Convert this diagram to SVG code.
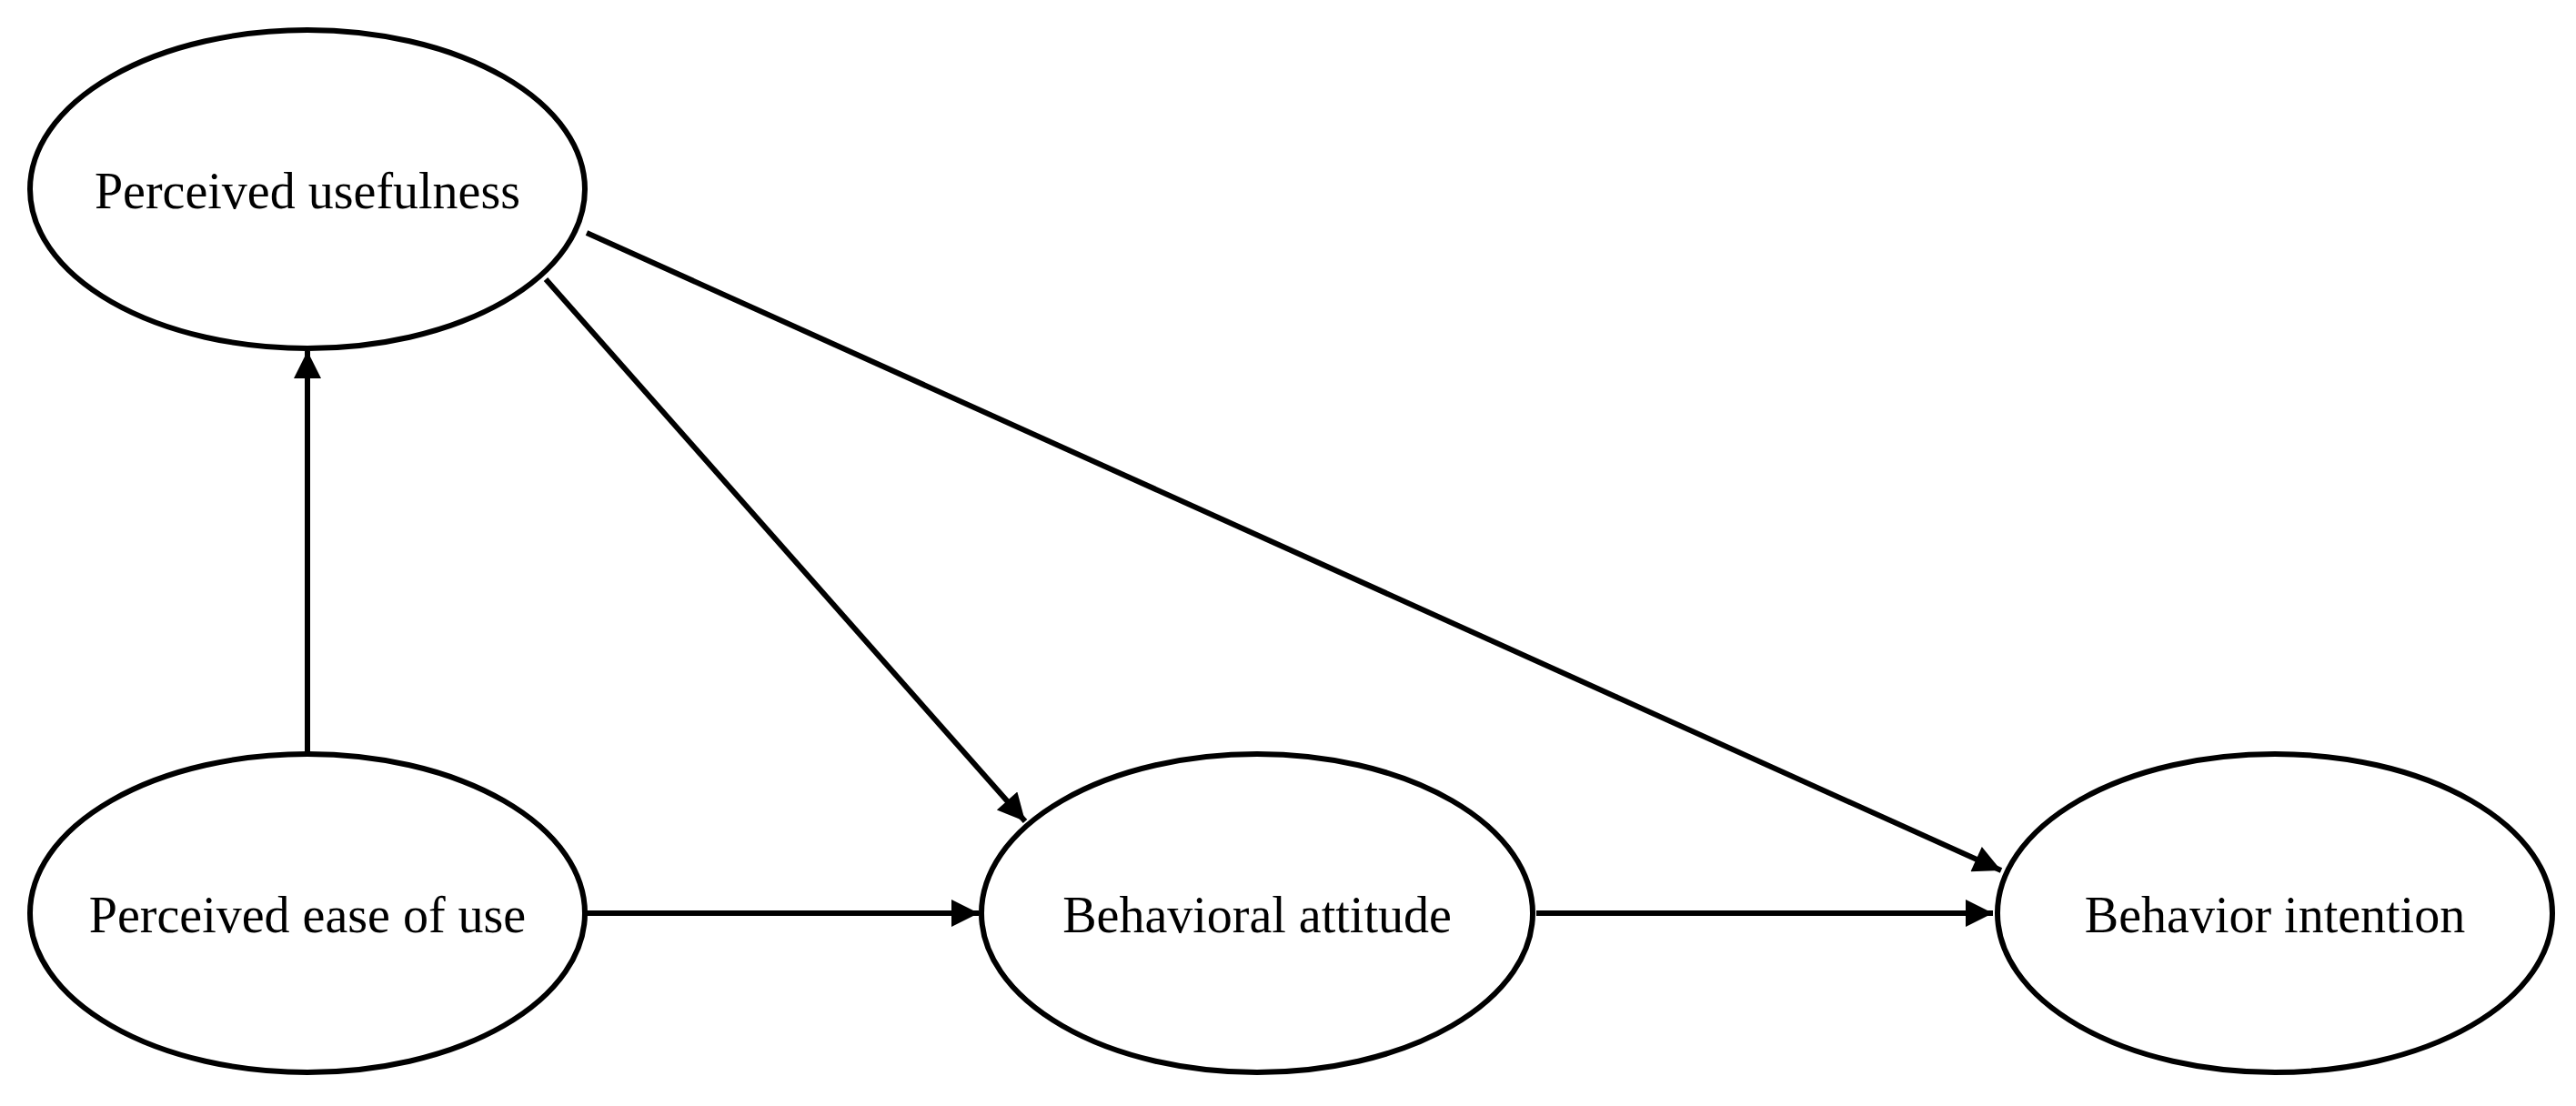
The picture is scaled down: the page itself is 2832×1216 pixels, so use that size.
<svg xmlns="http://www.w3.org/2000/svg" width="2832" height="1216" viewBox="0 0 2832 1216">
<style>
.n{fill:#fff;stroke:#000;stroke-width:6}
.t{font-family:"Liberation Serif",serif;font-size:56px;text-anchor:middle;dominant-baseline:central;fill:#000}
.e{stroke:#000;stroke-width:6;fill:none;marker-end:url(#a)}
</style>
<defs><marker id="a" viewBox="0 0 10 10" refX="10" refY="5" markerWidth="7" markerHeight="5" markerUnits="strokeWidth" orient="auto"><path d="M0,0L10,5L0,10z" fill="#000"/></marker></defs>
<rect width="2832" height="1216" fill="#fff"/>
<g id="connectors">
<line class="e" x1="338" y1="827" x2="338" y2="386"/>
<line class="e" x1="600" y1="307" x2="1127" y2="903"/>
<line class="e" x1="645" y1="256" x2="2200" y2="957"/>
<line class="e" x1="645" y1="1004" x2="1076" y2="1004"/>
<line class="e" x1="1689" y1="1004" x2="2191" y2="1004"/>
</g>
<g id="pu"><ellipse class="n" cx="338" cy="208" rx="305" ry="175"/><text class="t" x="338" y="210">Perceived usefulness</text></g>
<g id="peou"><ellipse class="n" cx="338" cy="1004" rx="305" ry="175"/><text class="t" x="338" y="1006">Perceived ease of use</text></g>
<g id="ba"><ellipse class="n" cx="1382" cy="1004" rx="303" ry="175"/><text class="t" x="1382" y="1006">Behavioral attitude</text></g>
<g id="bi"><ellipse class="n" cx="2501" cy="1004" rx="305" ry="175"/><text class="t" x="2501" y="1006">Behavior intention</text></g>
</svg>
